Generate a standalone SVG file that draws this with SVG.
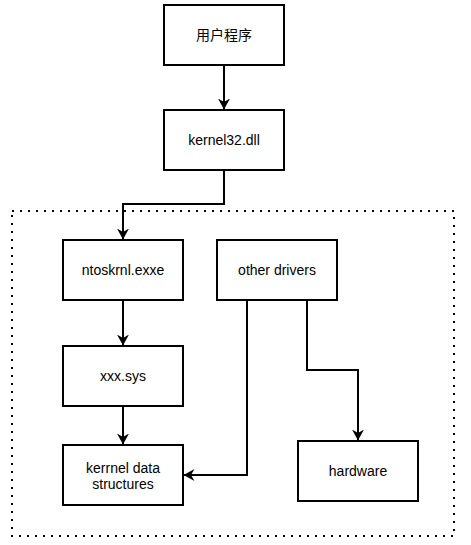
<svg xmlns="http://www.w3.org/2000/svg" width="471" height="545" viewBox="0 0 471 545">
<style>
.box{fill:#fff;stroke:#000;stroke-width:2}
.lbl{font-family:"Liberation Sans","Noto Sans CJK SC",Arial,sans-serif;font-size:14px;fill:#000;text-anchor:middle}
.edge{fill:none;stroke:#000;stroke-width:2;marker-end:url(#arr)}
</style>
<defs>
<marker id="arr" viewBox="0 0 11 12" refX="10.5" refY="6" markerWidth="11" markerHeight="12" markerUnits="userSpaceOnUse" orient="auto">
<path d="M11,6 L0,0 L3.5,6 L0,12 Z" fill="#000"/>
</marker>
</defs>
<rect id="kernel-space" x="12" y="211" width="442" height="325" fill="none" stroke="#000" stroke-width="2" stroke-dasharray="2 6"/>
<g id="connectors">
<path class="edge" d="M224,65 L224,109"/>
<path class="edge" d="M224,170 L224,204 L123,204 L123,239"/>
<path class="edge" d="M123,300 L123,345"/>
<path class="edge" d="M123,406 L123,444"/>
<path class="edge" d="M247,300 L247,475 L184,475"/>
<path class="edge" d="M307,300 L307,370 L358,370 L358,440"/>
</g>
<g id="user-program">
<rect class="box" x="164" y="5" width="120" height="60"/>
<text class="lbl" x="224" y="40">用户程序</text>
</g>
<g id="kernel32">
<rect class="box" x="164" y="110" width="120" height="60"/>
<text class="lbl" x="224" y="145">kernel32.dll</text>
</g>
<g id="ntoskrnl">
<rect class="box" x="63" y="240" width="120" height="60"/>
<text class="lbl" x="123" y="275">ntoskrnl.exxe</text>
</g>
<g id="other-drivers">
<rect class="box" x="217" y="240" width="120" height="60"/>
<text class="lbl" x="277" y="275">other drivers</text>
</g>
<g id="xxx-sys">
<rect class="box" x="63" y="346" width="120" height="60"/>
<text class="lbl" x="123" y="381">xxx.sys</text>
</g>
<g id="kernel-data">
<rect class="box" x="63" y="445" width="120" height="60"/>
<text class="lbl" x="123" y="473">kerrnel data</text>
<text class="lbl" x="123" y="489">structures</text>
</g>
<g id="hardware">
<rect class="box" x="298" y="441" width="120" height="60"/>
<text class="lbl" x="358" y="476">hardware</text>
</g>
</svg>
